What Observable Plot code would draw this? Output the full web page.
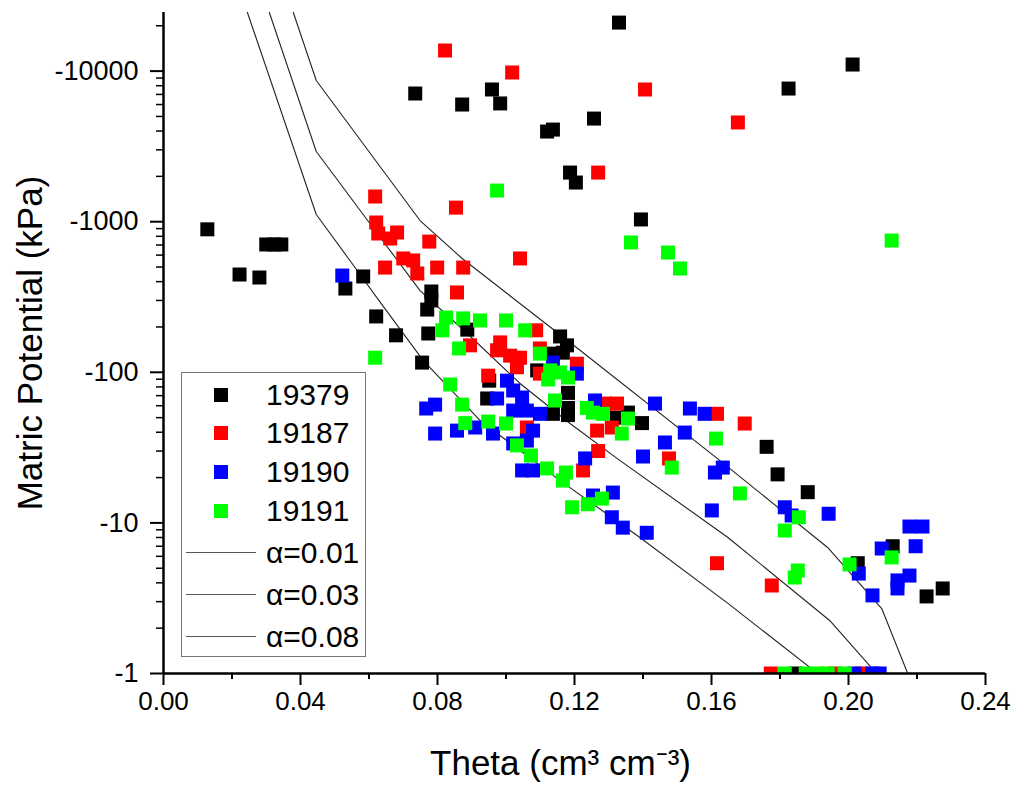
<!DOCTYPE html>
<html><head><meta charset="utf-8">
<script src="https://cdn.jsdelivr.net/npm/d3@7"></script>
<script src="https://cdn.jsdelivr.net/npm/@observablehq/plot@0.6"></script>
<style>
body{margin:0;background:#fff;font-family:"Liberation Sans",Arial,sans-serif;}
#wrap{position:relative;width:1016px;height:787px;}
#legend{position:absolute;left:181px;top:372px;width:185px;height:285px;border:1px solid #777;background:#fff;box-sizing:border-box;}
.item{position:absolute;left:0;width:183px;height:40px;font-size:30px;color:#000;}
.item .sw{position:absolute;left:32px;top:13px;width:14px;height:14px;}
.item .ln{position:absolute;left:4px;top:19px;width:70px;height:0;border-top:1.5px solid #555;}
.item .tx{position:absolute;left:84px;top:0;line-height:40px;white-space:nowrap;}
</style></head><body><div id="wrap"><div id="legend"></div></div>
<script>
const series = ["19379", "19187", "19190", "19191"];
const colors = ["#000000", "#ff0000", "#0000ff", "#00ff00"];

const theta19379 = [0.0128,0.0222,0.0280,0.0300,0.0324,0.0344,0.0531,0.0583,0.0621,0.0679,0.0755,0.0735,0.0872,0.0959,0.0983,0.1120,0.1137,0.1187,0.1204,0.1257,0.1330,0.1394,0.1825,0.2012,0.0782,0.0782,0.0770,0.0773,0.0887,0.0951,0.0945,0.1091,0.1158,0.1178,0.1166,0.1137,0.1181,0.1181,0.1181,0.1137,0.1324,0.1356,0.1397,0.1761,0.1793,0.1881,0.2129,0.2027,0.2228,0.2275,0.1846];
const psi19379 = [-890,-446,-426,-706,-706,-706,-360,-433,-235,-176,-116,-7100,-6000,-7550,-6100,-3970,-4090,-2120,-1820,-4840,-21000,-1035,-7660,-11060,-344,-300,-261,-181,-192,-88,-67,-103,-173,-151,-135,-133,-73,-58,-52,-53,-50,-54,-46,-32,-21,-16,-7.0,-5.4,-3.25,-3.67,-1];

const theta19187 = [0.0822,0.1018,0.1406,0.1677,0.1269,0.0618,0.0854,0.0621,0.0627,0.0682,0.0662,0.0776,0.1041,0.0700,0.0729,0.0647,0.0741,0.0799,0.0875,0.0857,0.0895,0.0983,0.0974,0.1012,0.1041,0.1032,0.0948,0.1088,0.1099,0.1099,0.1061,0.1207,0.1266,0.1309,0.1324,0.1289,0.1269,0.1225,0.1476,0.1616,0.1697,0.1616,0.1776,0.1773,0.1960,0.2038];
const psi19187 = [-13700,-9790,-7550,-4560,-2120,-1470,-1240,-988,-835,-848,-773,-738,-570,-570,-553,-496,-453,-496,-496,-339,-151,-158,-140,-129,-125,-108,-95,-190,-144,-98,-43,-114,-41,-43,-62,-62,-30,-22.3,-26.8,-53,-45.7,-5.4,-3.84,-1,-1,-1];

const theta19190 = [0.0522,0.0767,0.0793,0.0793,0.0857,0.0910,0.0962,0.0974,0.1003,0.1021,0.1047,0.1021,0.1061,0.1099,0.1079,0.1021,0.1061,0.1047,0.1079,0.1137,0.1207,0.1260,0.1231,0.1254,0.1312,0.1309,0.1341,0.1411,0.1435,0.1537,0.1580,0.1522,0.1464,0.1400,0.1610,0.1633,0.1601,0.1814,0.1834,0.1942,0.2097,0.2030,0.2070,0.2178,0.2216,0.2196,0.2143,0.2178,0.2143,0.2018,0.2070,0.2091];
const psi19190 = [-439,-57.5,-61,-39.2,-41,-43,-39.2,-67,-88,-75.7,-68,-55.7,-55.7,-53,-41,-33.7,-35.2,-22.3,-22.3,-116,-98,-65,-26.8,-15.2,-15.9,-10.9,-9.3,-8.6,-62,-57.5,-53,-39.8,-34.2,-27.6,-21.6,-23.3,-12.1,-12.7,-11.2,-11.5,-6.76,-4.61,-3.3,-9.46,-9.46,-7.0,-4.15,-4.47,-3.67,-1,-1,-1];

const theta19191 = [0.0974,0.1365,0.1473,0.2126,0.1508,0.0618,0.0825,0.0814,0.0875,0.0924,0.1000,0.1056,0.0863,0.1099,0.1129,0.1123,0.1158,0.1181,0.1143,0.0837,0.0872,0.0881,0.0948,0.1000,0.1032,0.1073,0.1120,0.1175,0.1166,0.1193,0.1239,0.1280,0.1236,0.1254,0.1283,0.1356,0.1338,0.1613,0.1484,0.1683,0.1814,0.1855,0.1852,0.1843,0.2003,0.2126,0.1814,0.1875,0.1910,0.1939,0.1989];
const psi19191 = [-1610,-728,-624,-750,-489,-125,-231,-190,-228,-221,-221,-190,-144,-133,-103,-89.6,-99.7,-92.3,-65,-83,-61,-46,-47.1,-45.7,-32.7,-28,-23,-21.6,-19.1,-12.7,-13.3,-14.5,-58,-54,-53,-49.3,-39.2,-36.3,-23.3,-15.7,-8.9,-10.9,-4.83,-4.34,-5.3,-5.9,-1,-1,-1,-1,-1];

const curveLabels = ["α=0.01", "α=0.03", "α=0.08"];
const curveTheta1 = [0.0245,0.0446,0.0540,0.0633,0.0758,0.0924,0.1158,0.1391,0.1648,0.1910];
const curvePsi1   = [-24500,-1117,-570,-291,-120,-47.9,-19.1,-8.0,-2.92,-1];
const curveTheta2 = [0.0309,0.0446,0.0633,0.0749,0.0887,0.1041,0.1187,0.1324,0.1648,0.1945,0.2082];
const curvePsi2   = [-24500,-2924,-785,-349,-181,-84.3,-45.7,-26.8,-8.0,-2.25,-1];
const curveTheta3 = [0.0379,0.0446,0.0749,0.0872,0.1216,0.1624,0.1939,0.2097,0.2173];
const curvePsi3   = [-24500,-8660,-1018,-570,-140,-26,-6.87,-2.7,-1];

const xTicks = [0, 0.04, 0.08, 0.12, 0.16, 0.20, 0.24];
const xMinor = [0.02, 0.06, 0.10, 0.14, 0.18, 0.22];
const yTicks = [1, 10, 100, 1000, 10000];
const yMinorMult = [2, 3, 4, 5, 6, 7, 8, 9];

const thetas = [theta19379, theta19187, theta19190, theta19191];
const psis = [psi19379, psi19187, psi19190, psi19191];
const points = [];
series.forEach((s, k) => thetas[k].forEach((t, i) => points.push({series: s, theta: t, psi: psis[k][i]})));

const curves = [[curveTheta1, curvePsi1], [curveTheta2, curvePsi2], [curveTheta3, curvePsi3]]
  .map(([ts, ps], k) => ts.map((t, i) => ({curve: curveLabels[k], theta: t, psi: ps[i]})));

const yMinor = yTicks.flatMap(d => yMinorMult.map(m => d * m)).filter(v => v <= 24500);

const font = '"Liberation Sans", Arial, sans-serif';

const chart = Plot.plot({
  width: 1016, height: 787,
  marginLeft: 163, marginRight: 31, marginTop: 12, marginBottom: 114,
  style: {fontFamily: font, color: "#000", background: "#fff", overflow: "visible"},
  x: {domain: [0, 0.24]},
  y: {type: "log", domain: [1, 24500]},
  color: {domain: series, range: colors},
  marks: [
    ...curves.map(c => Plot.line(c, {x: "theta", y: d => -d.psi, stroke: "#222", strokeWidth: 1.1, clip: true})),
    Plot.dot(points, {x: "theta", y: d => -d.psi, fill: "series", symbol: "square", r: 7.9, clip: true}),
    Plot.axisY(yMinor, {tickSize: 7, tickFormat: () => "", label: null, strokeWidth: 1.5}),
    Plot.axisY(yTicks, {tickSize: 13, tickPadding: 12, tickFormat: d => "-" + d, fontSize: 27, label: null, strokeWidth: 2}),
    Plot.axisX(xMinor, {tickSize: 6, tickFormat: () => "", label: null, strokeWidth: 2}),
    Plot.axisX(xTicks, {tickSize: 12, tickPadding: 6, tickFormat: d3.format(".2f"), fontSize: 26, label: null, strokeWidth: 2}),
    Plot.ruleX([0], {strokeWidth: 2.5}),
    Plot.ruleY([1], {strokeWidth: 2.5}),
    Plot.text(["Matric Potential (kPa)"], {frameAnchor: "left", textAnchor: "middle", lineAnchor: "middle", rotate: -90, dx: -133, fontSize: 35}),
    Plot.text(["Theta (cm³ cm⁻³)"], {frameAnchor: "bottom", textAnchor: "middle", lineAnchor: "middle", dx: -14, dy: 90, fontSize: 35})
  ]
});
document.getElementById("wrap").prepend(chart);

const legend = document.getElementById("legend");
const entries = [
  ...series.map((s, k) => ({type: "sq", label: s, color: colors[k]})),
  ...curveLabels.map(l => ({type: "ln", label: l}))
];
const centers = [22, 60, 99, 138, 180, 222, 264];
entries.forEach((e, i) => {
  const it = document.createElement("div");
  it.className = "item";
  it.style.top = (centers[i] - 20) + "px";
  const mk = document.createElement("div");
  if (e.type === "sq") { mk.className = "sw"; mk.style.background = e.color; }
  else { mk.className = "ln"; }
  const tx = document.createElement("div");
  tx.className = "tx";
  tx.textContent = e.label;
  it.appendChild(mk); it.appendChild(tx);
  legend.appendChild(it);
});
</script>
</body></html>
